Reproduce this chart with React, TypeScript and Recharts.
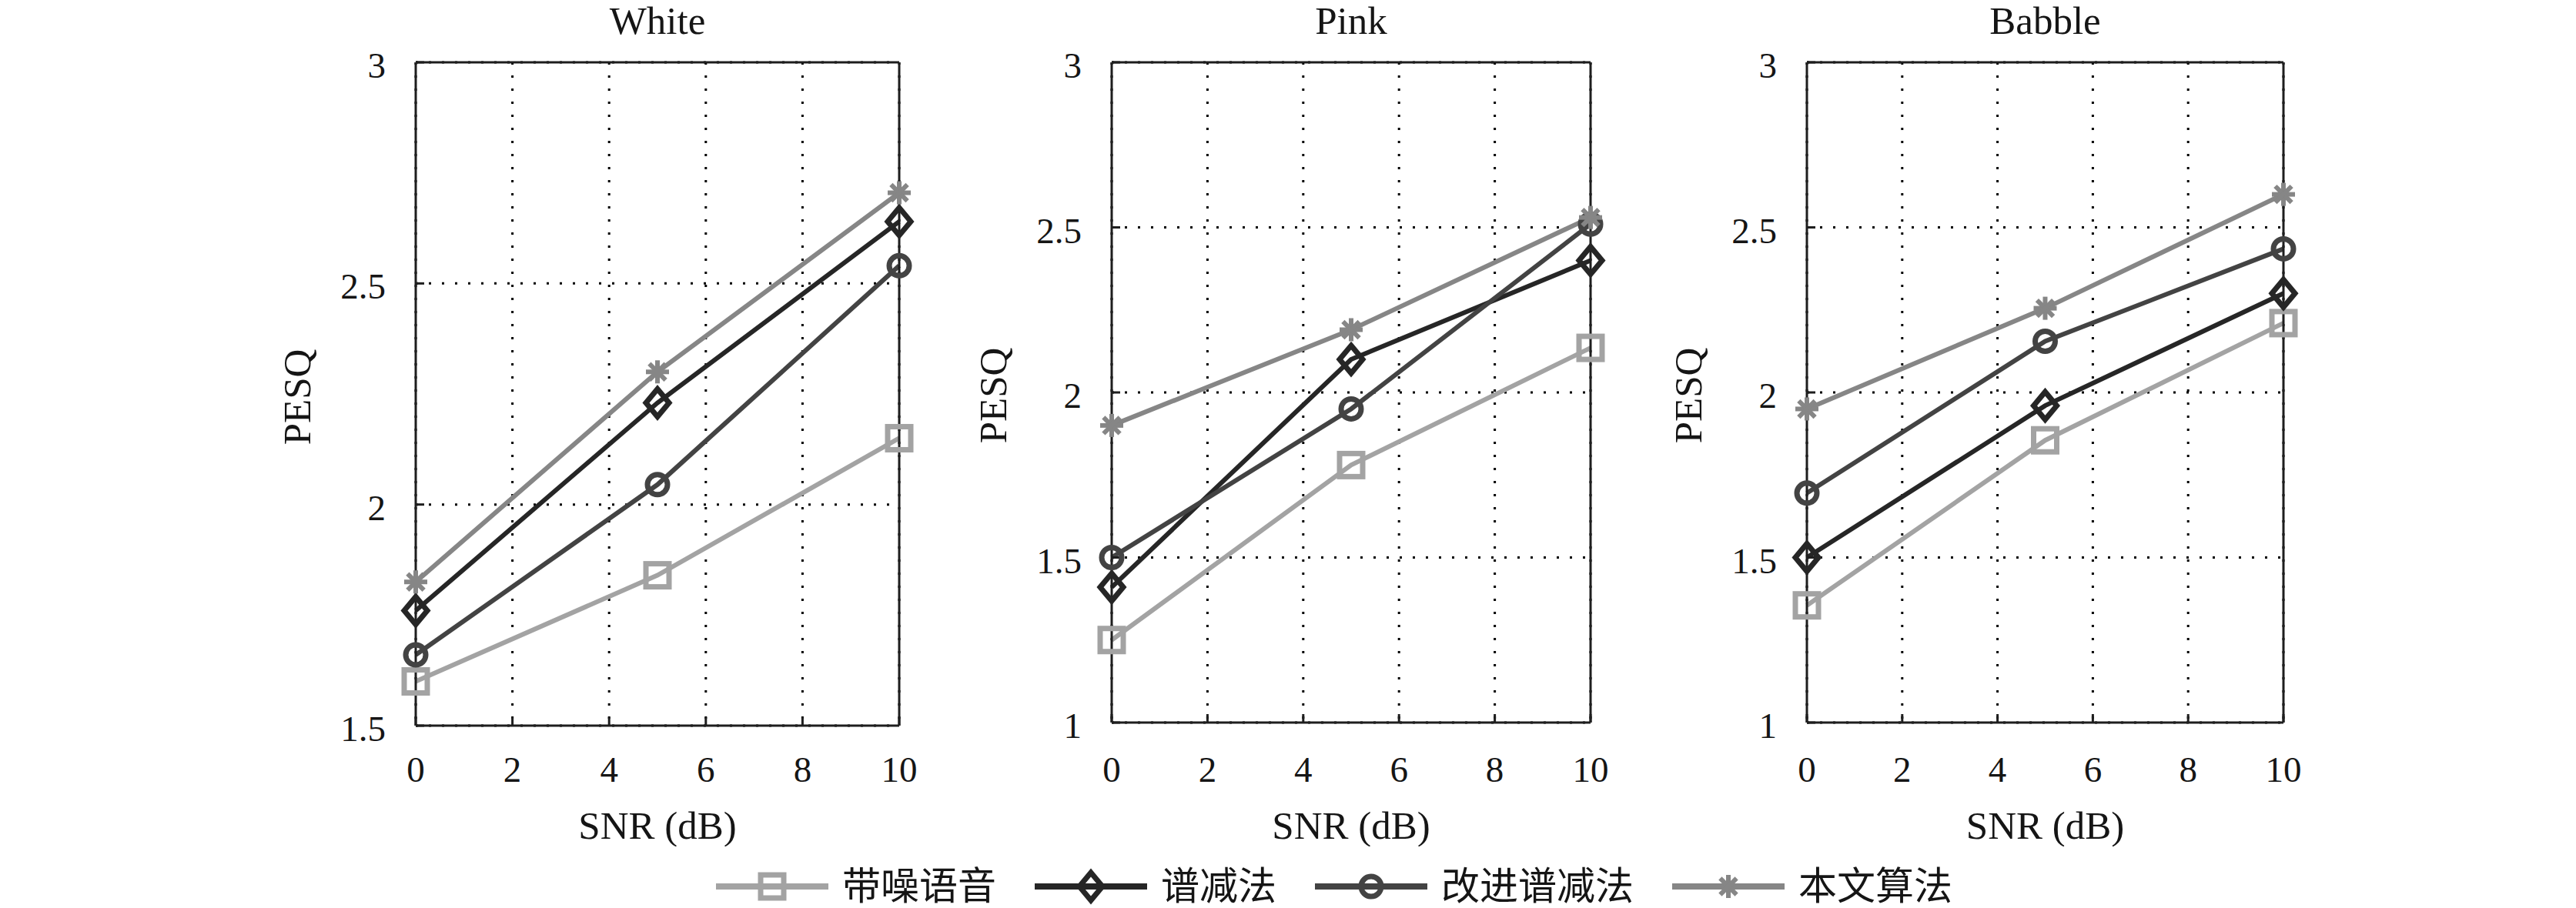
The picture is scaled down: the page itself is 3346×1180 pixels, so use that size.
import React from 'react';
import { LineChart, Line, XAxis, YAxis, CartesianGrid, Label } from 'recharts';

// ---------- data ----------
const SNR = [0, 5, 10];
const X_TICKS = [0, 2, 4, 6, 8, 10];

const SERIES_KEYS = ['noisy', 'ss', 'iss', 'prop'];
const SERIES_NAMES = ['带噪语音', '谱减法', '改进谱减法', '本文算法'];
const SERIES_COLORS = ['#a3a3a3', '#262626', '#434343', '#868686'];
const SERIES_MARKERS = ['square', 'diamond', 'circle', 'star'];

const WHITE_NOISY = [1.6, 1.84, 2.15];
const WHITE_SS = [1.76, 2.23, 2.64];
const WHITE_ISS = [1.66, 2.045, 2.54];
const WHITE_PROP = [1.825, 2.3, 2.705];

const PINK_NOISY = [1.25, 1.78, 2.135];
const PINK_SS = [1.41, 2.1, 2.4];
const PINK_ISS = [1.5, 1.95, 2.51];
const PINK_PROP = [1.9, 2.19, 2.53];

const BABBLE_NOISY = [1.355, 1.855, 2.21];
const BABBLE_SS = [1.5, 1.96, 2.3];
const BABBLE_ISS = [1.695, 2.155, 2.435];
const BABBLE_PROP = [1.95, 2.255, 2.6];

const WHITE_Y_TICKS = [1.5, 2, 2.5, 3];
const OTHER_Y_TICKS = [1, 1.5, 2, 2.5, 3];

const buildRows = (noisy: number[], ss: number[], iss: number[], prop: number[]) =>
  SNR.map((x, i) => ({ snr: x, noisy: noisy[i], ss: ss[i], iss: iss[i], prop: prop[i] }));

const WHITE_ROWS = buildRows(WHITE_NOISY, WHITE_SS, WHITE_ISS, WHITE_PROP);
const PINK_ROWS = buildRows(PINK_NOISY, PINK_SS, PINK_ISS, PINK_PROP);
const BABBLE_ROWS = buildRows(BABBLE_NOISY, BABBLE_SS, BABBLE_ISS, BABBLE_PROP);

// ---------- styling ----------
const FONT = "'Liberation Serif', 'Times New Roman', 'Noto Sans CJK SC', serif";
const AXIS_COLOR = '#1e1e1e';
const TEXT_COLOR = '#151515';
const CHART_H = 1100;
const PLOT_TOP = 81;

function Marker({ kind, cx, cy, color }: { kind: string; cx: number; cy: number; color: string }) {
  if (cx == null || cy == null) return null;
  if (kind === 'square') {
    return <rect x={cx - 15} y={cy - 15} width={30} height={30} fill="none" stroke={color} strokeWidth={7} />;
  }
  if (kind === 'diamond') {
    return (
      <polygon
        points={`${cx},${cy - 18} ${cx + 15},${cy} ${cx},${cy + 18} ${cx - 15},${cy}`}
        fill="none"
        stroke={color}
        strokeWidth={7}
      />
    );
  }
  if (kind === 'circle') {
    return <circle cx={cx} cy={cy} r={13} fill="none" stroke={color} strokeWidth={7} />;
  }
  const r = 15;
  const d = 10.6;
  return (
    <g stroke={color} strokeWidth={6}>
      <line x1={cx} y1={cy - r} x2={cx} y2={cy + r} />
      <line x1={cx - r} y1={cy} x2={cx + r} y2={cy} />
      <line x1={cx - d} y1={cy - d} x2={cx + d} y2={cy + d} />
      <line x1={cx - d} y1={cy + d} x2={cx + d} y2={cy - d} />
    </g>
  );
}

type PanelProps = {
  title: string;
  rows: any[];
  yDomain: [number, number];
  yTicks: number[];
  left: number;
  width: number;
  plotLeft: number;
  plotRight: number;
  plotBottom: number;
};

function Panel({ title, rows, yDomain, yTicks, left, width, plotLeft, plotRight, plotBottom }: PanelProps) {
  const yAxisW = 200;
  const localLeft = plotLeft - left;
  const localRight = plotRight - left;
  const axisLine = { stroke: AXIS_COLOR, strokeWidth: 3 };
  const tickLine = { stroke: AXIS_COLOR, strokeWidth: 3 };

  const xTick = (p: any) => (
    <text x={p.x} y={1016} textAnchor="middle" fontFamily={FONT} fontSize={47} fill={TEXT_COLOR}>
      {p.payload.value}
    </text>
  );
  const yTick = (p: any) => (
    <text x={localLeft - 39} y={p.y + 20} textAnchor="end" fontFamily={FONT} fontSize={47} fill={TEXT_COLOR}>
      {p.payload.value}
    </text>
  );
  const titleLabel = (p: any) => {
    const vb = p.viewBox || {};
    return (
      <text x={vb.x + vb.width / 2} y={44} textAnchor="middle" fontFamily={FONT} fontSize={51} fill={TEXT_COLOR}>
        {title}
      </text>
    );
  };
  const xLabel = (p: any) => {
    const vb = p.viewBox || {};
    return (
      <text x={vb.x + vb.width / 2} y={1090} textAnchor="middle" fontFamily={FONT} fontSize={51} fill={TEXT_COLOR}>
        SNR (dB)
      </text>
    );
  };
  const yLabel = () => {
    const bx = localLeft - 137;
    const cy = (PLOT_TOP + plotBottom) / 2 + 4;
    return (
      <text
        x={bx}
        y={cy}
        transform={`rotate(-90, ${bx}, ${cy})`}
        textAnchor="middle"
        fontFamily={FONT}
        fontSize={51}
        fill={TEXT_COLOR}
      >
        PESQ
      </text>
    );
  };

  return (
    <div style={{ position: 'absolute', left, top: 0, width, height: CHART_H }}>
      <LineChart
        width={width}
        height={CHART_H}
        data={rows}
        margin={{ top: 0, right: width - localRight - 2, bottom: 0, left: localLeft - yAxisW }}
      >
        <CartesianGrid stroke="#000" strokeWidth={3} strokeDasharray="3 14" />
        <XAxis
          dataKey="snr"
          type="number"
          domain={[0, 10]}
          ticks={X_TICKS}
          interval={0}
          height={CHART_H - plotBottom}
          tickSize={-11}
          tickMargin={40}
          tick={xTick}
          axisLine={axisLine}
          tickLine={tickLine}
          label={<Label content={xLabel} />}
        />
        <XAxis
          xAxisId="top"
          orientation="top"
          type="number"
          domain={[0, 10]}
          ticks={X_TICKS}
          interval={0}
          height={PLOT_TOP}
          tickSize={-11}
          tick={false}
          axisLine={axisLine}
          tickLine={tickLine}
          label={<Label content={titleLabel} />}
        />
        <YAxis
          type="number"
          domain={yDomain}
          ticks={yTicks}
          interval={0}
          width={yAxisW}
          tickSize={-11}
          tickMargin={40}
          tick={yTick}
          axisLine={axisLine}
          tickLine={tickLine}
          label={<Label content={yLabel} />}
        />
        <YAxis
          yAxisId="right"
          orientation="right"
          type="number"
          domain={yDomain}
          ticks={yTicks}
          interval={0}
          width={2}
          tickSize={-11}
          tick={false}
          axisLine={axisLine}
          tickLine={tickLine}
        />
        {SERIES_KEYS.map((k, i) => (
          <Line
            key={k}
            dataKey={k}
            name={SERIES_NAMES[i]}
            stroke={SERIES_COLORS[i]}
            strokeWidth={6}
            isAnimationActive={false}
            dot={(p: any) => (
              <Marker key={`${k}-${p.index}`} kind={SERIES_MARKERS[i]} cx={p.cx} cy={p.cy} color={SERIES_COLORS[i]} />
            )}
            activeDot={false}
          />
        ))}
      </LineChart>
    </div>
  );
}

function LegendRow() {
  return (
    <div
      style={{
        position: 'absolute',
        left: 930,
        top: 1122,
        height: 60,
        display: 'flex',
        alignItems: 'center',
        fontFamily: FONT,
        fontSize: 50,
        color: TEXT_COLOR,
        whiteSpace: 'nowrap',
      }}
    >
      {SERIES_NAMES.map((name, i) => (
        <div key={name} style={{ display: 'flex', alignItems: 'center', marginRight: 50 }}>
          <svg width={146} height={60} style={{ display: 'block' }}>
            <line x1={0} y1={30} x2={146} y2={30} stroke={SERIES_COLORS[i]} strokeWidth={8} />
            <Marker kind={SERIES_MARKERS[i]} cx={73} cy={30} color={SERIES_COLORS[i]} />
          </svg>
          <span style={{ marginLeft: 18, lineHeight: '60px' }}>{name}</span>
        </div>
      ))}
    </div>
  );
}

export default function App() {
  return (
    <div style={{ position: 'relative', width: 3346, height: 1180, background: '#fff', overflow: 'hidden' }}>
      <style>{`body{margin:0;background:#fff}`}</style>
      <Panel
        title="White"
        rows={WHITE_ROWS}
        yDomain={[1.5, 3]}
        yTicks={WHITE_Y_TICKS}
        left={0}
        width={1200}
        plotLeft={540}
        plotRight={1168}
        plotBottom={943}
      />
      <Panel
        title="Pink"
        rows={PINK_ROWS}
        yDomain={[1, 3]}
        yTicks={OTHER_Y_TICKS}
        left={1200}
        width={900}
        plotLeft={1444}
        plotRight={2066}
        plotBottom={939}
      />
      <Panel
        title="Babble"
        rows={BABBLE_ROWS}
        yDomain={[1, 3]}
        yTicks={OTHER_Y_TICKS}
        left={2100}
        width={1246}
        plotLeft={2347}
        plotRight={2966}
        plotBottom={939}
      />
      <LegendRow />
    </div>
  );
}
